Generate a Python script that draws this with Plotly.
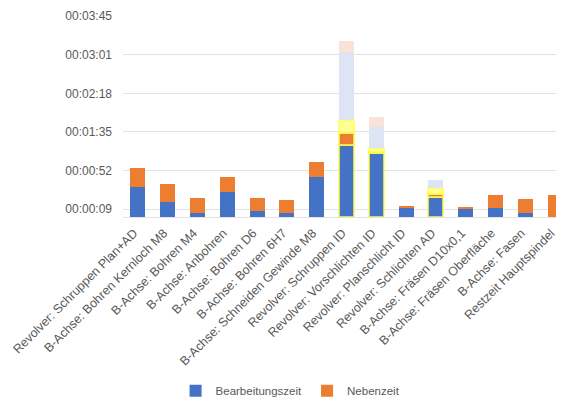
import plotly.graph_objects as go

categories = [
    "Revolver: Schruppen Plan+AD",
    "B-Achse: Bohren Kernloch M8",
    "B-Achse: Bohren M4",
    "B-Achse: Anbohren",
    "B-Achse: Bohren D6",
    "B-Achse: Bohren 6H7",
    "B-Achse: Schneiden Gewinde M8",
    "Revolver: Schruppen ID",
    "Revolver: Vorschlichten ID",
    "Revolver: Planschlicht ID",
    "Revolver: Schlichten AD",
    "B-Achse: Fräsen D10x0,1",
    "B-Achse: Fräsen Oberfläche",
    "B-Achse: Fasen",
    "Restzeit Hauptspindel",
]
# seconds
bearbeitungszeit = [34, 16.5, 4, 28.5, 7, 4, 45, 80.5, 71.5, 10.5, 22, 9, 10, 4.7, 0.5]
nebenzeit = [20.5, 20.5, 17.5, 16, 14, 15, 16, 13.5, 1, 2.2, 4, 2.3, 15, 15.6, 24]
highlighted = [False] * 7 + [True, True, False, True] + [False] * 4
highlight_extra = [0, 0, 0, 0, 0, 0, 0, 14.5, 5, 0, 6, 0, 0, 0, 0]
ghost_bearbeitung = [0, 0, 0, 0, 0, 0, 0, 75.5, 23, 0, 9, 0, 0, 0, 0]
ghost_neben = [0, 0, 0, 0, 0, 0, 0, 12.5, 11, 0, 0, 0, 0, 0, 0]

tick_vals = [8.64, 51.84, 95.04, 138.24, 181.44, 224.64]
tick_text = ["00:00:09", "00:00:52", "00:01:35", "00:02:18", "00:03:01", "00:03:45"]

BLUE = "#4472C4"
ORANGE = "#ED7D31"
YELLOW = "rgba(255,255,80,0.75)"

line_colors = [YELLOW if h else "rgba(0,0,0,0)" for h in highlighted]
line_widths = [2 if h else 0 for h in highlighted]

fig = go.Figure()
fig.add_trace(go.Bar(x=categories, y=bearbeitungszeit, name="Bearbeitungszeit",
                     marker=dict(color=BLUE, line=dict(color=line_colors, width=line_widths))))
fig.add_trace(go.Bar(x=categories, y=nebenzeit, name="Nebenzeit",
                     marker=dict(color=ORANGE, line=dict(color=line_colors, width=line_widths))))
fig.add_trace(go.Bar(x=categories, y=highlight_extra, showlegend=False, hoverinfo="skip",
                     marker=dict(color="rgba(255,255,120,0.8)", line=dict(color=line_colors, width=line_widths))))
fig.add_trace(go.Bar(x=categories, y=ghost_bearbeitung, showlegend=False, hoverinfo="skip",
                     marker=dict(color="#dde5f4", line=dict(width=0))))
fig.add_trace(go.Bar(x=categories, y=ghost_neben, showlegend=False, hoverinfo="skip",
                     marker=dict(color="#f8e3d6", line=dict(width=0))))

# page body adds an 8px margin, so the figure is sized 8px smaller on each axis
fig.update_layout(
    width=556, height=393,
    barmode="stack", bargap=0.5,
    plot_bgcolor="white", paper_bgcolor="white",
    margin=dict(l=115, r=0, t=8, b=183.5, autoexpand=False),
    font=dict(family="Liberation Sans, Arial, sans-serif", size=12, color="#595959"),
    showlegend=True,
    legend=dict(orientation="h", x=0.38, xanchor="center", y=-0.865, yanchor="middle",
                font=dict(size=11.5, color="#595959"), traceorder="normal",
                itemwidth=30, tracegroupgap=0),
)
fig.update_xaxes(range=[-0.5, 14.3], tickangle=-45, showgrid=False, automargin=False,
                 showline=True, linecolor="#e3e3e3", ticks="", ticklabelshift=-4,
                 ticklabelstandoff=3, tickfont=dict(size=12.5, color="#595959"))
fig.update_yaxes(range=[0, 224.64], tickvals=tick_vals, ticktext=tick_text, automargin=False,
                 showgrid=True, gridcolor="#e3e3e3", gridwidth=1, zeroline=False,
                 ticks="", ticklabelstandoff=10, tickfont=dict(size=12, color="#595959"))

fig.write_html("out.html")
